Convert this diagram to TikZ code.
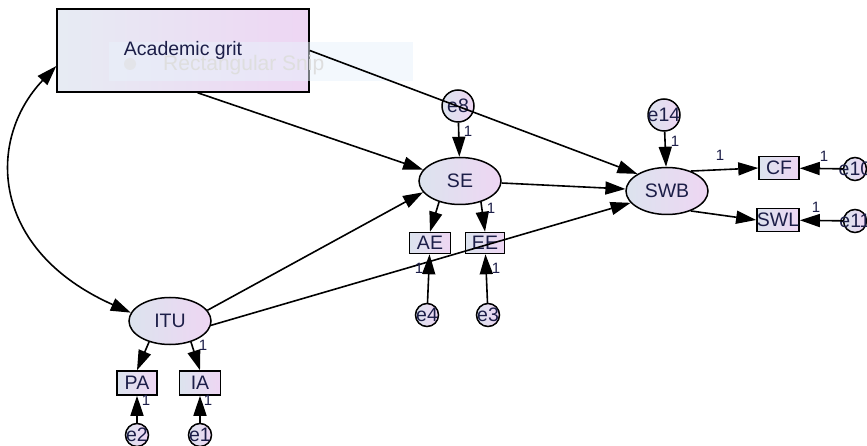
\documentclass[tikz,border=0pt]{standalone}
\usepackage{fontspec}
\setmainfont{Liberation Sans}
\usetikzlibrary{arrows.meta, positioning, shapes.geometric}

\definecolor{fillL}{RGB}{220,227,238}
\definecolor{fillR}{RGB}{238,214,243}
\definecolor{ink}{RGB}{28,30,72}
\definecolor{snipfill}{RGB}{232,242,252}

\begin{document}
\begin{tikzpicture}[x=1pt, y=-1pt]
	\tikzstyle{latent} = [ellipse, draw=black, line width=1.5pt, minimum width=82pt, minimum height=47pt, inner sep=0pt, left color=fillL, right color=fillR, text=ink, font=\fontsize{19.5}{21}\selectfont]
	\tikzstyle{obs} = [rectangle, draw=black, line width=1.5pt, minimum width=40pt, minimum height=23pt, inner sep=0pt, left color=fillL, right color=fillR, text=ink, font=\fontsize{19.5}{21}\selectfont]
	\tikzstyle{err} = [circle, draw=black, line width=1.5pt, minimum size=23pt, inner sep=0pt, left color=fillL, right color=fillR, label={[text=ink, font=\fontsize{19.5}{21}\selectfont]center:#1}]
	\tikzstyle{arrow} = [line width=1.6pt, -{Triangle[length=20pt, width=13pt]}]
	\tikzstyle{dblarrow} = [line width=1.6pt, {Triangle[length=20pt, width=13pt]}-{Triangle[length=20pt, width=13pt]}]
	\tikzstyle{one} = [text=ink, font=\fontsize{15}{15}\selectfont, inner sep=0pt]

	\useasboundingbox[fill=white] (0,0) rectangle (867,446);

	% exogenous box and snip overlay
	\node[rectangle, draw=black, line width=1.5pt, minimum width=252pt, minimum height=83pt, left color=fillL!70!white, right color=fillR](grit) at (183,50.5){};
	\fill[snipfill, fill opacity=0.5] (109,42) rectangle (413,81);
	\fill[black!12, fill opacity=0.6] (130,64) circle (6);
	\node[text=black!13, font=\fontsize{21}{23}\selectfont, anchor=west, inner sep=0pt](snip) at (163,65){Rectangular Snip};
	\node[text=ink, font=\fontsize{19.5}{21}\selectfont](gritlabel) at (grit.center){Academic grit};

	% latent variables
	\node[latent](se) at (460,181){SE};
	\node[latent](swb) at (667,191){SWB};
	\node[latent](itu) at (170,321){ITU};

	% indicators
	\node[obs](cf) at (779,168){CF};
	\node[obs, minimum width=38pt](swl) at (778,220){SWL};
	\node[obs, minimum width=41pt, minimum height=21pt](ae) at (430,243){AE};
	\node[obs, minimum width=39pt, minimum height=21pt](ee) at (485,243){EE};
	\node[obs, minimum height=24pt](pa) at (137,383){PA};
	\node[obs, minimum width=41pt, minimum height=24pt](ia) at (200,383){IA};

	% error terms
	\node[err=e8, minimum size=32pt](e8) at (458,106){};
	\node[err=e14, minimum size=32pt](e14) at (664,115){};
	\node[err=e10](e10) at (855,169){};
	\node[err=e11](e11) at (855,221){};
	\node[err=e4](e4) at (427,315){};
	\node[err=e3](e3) at (488,315){};
	\node[err=e2](e2) at (137,435){};
	\node[err=e1](e1) at (200,435){};

	% structural paths
	\draw[dblarrow] (itu.168) .. controls (-10,250) and (-14,140) .. (grit.187);
	\draw[arrow] (grit.-71) to (se.163);
	\draw[arrow] (grit.east) to (swb.150);
	\draw[arrow] (itu.16) to (se.197);
	\draw[arrow] (itu.-6) to (swb.198);
	\draw[arrow] (se) to (swb);

	% measurement paths
	\draw[arrow] (swb.40) to (cf.west);
	\draw[arrow] (swb.-40) to (swl.west);
	\draw[arrow] (se.225) to (ae.north);
	\draw[arrow] (se.-45) to (ee.north);
	\draw[arrow] (itu.225) to (pa.north);
	\draw[arrow] (itu.-45) to (ia.north);

	% residuals
	\draw[arrow] (e8) to (se);
	\draw[arrow] (e14) to (swb);
	\draw[arrow] (e10) to (cf);
	\draw[arrow] (e11) to (swl);
	\draw[arrow] (e4) to (ae);
	\draw[arrow] (e3) to (ee);
	\draw[arrow] (e2) to (pa);
	\draw[arrow] (e1) to (ia);

	% fixed loadings
	\node[one](w1) at (468,131){1};
	\node[one](w2) at (675,141){1};
	\node[one](w3) at (720,155){1};
	\node[one](w4) at (824,156){1};
	\node[one](w5) at (816,207){1};
	\node[one](w6) at (491,208){1};
	\node[one](w7) at (419,268){1};
	\node[one](w8) at (496,268){1};
	\node[one](w9) at (203,345){1};
	\node[one](w10) at (146,400){1};
	\node[one](w11) at (208,400){1};
\end{tikzpicture}
\end{document}
